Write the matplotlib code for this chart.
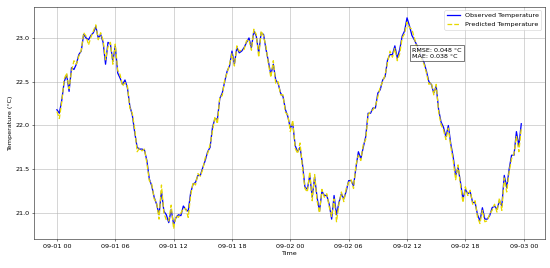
import matplotlib
matplotlib.use("Agg")
import matplotlib.pyplot as plt
import matplotlib.dates as mdates
import pandas as pd

start_time = "2023-09-01 00:00"
freq = "15min"

observed = [
    22.18, 22.14, 22.29, 22.50, 22.58, 22.39, 22.66, 22.64, 22.70, 22.81, 22.85, 23.04,
    23.00, 22.98, 23.03, 23.06, 23.13, 23.00, 23.04, 22.95, 22.70, 22.95, 22.93, 22.73,
    22.91, 22.60, 22.54, 22.47, 22.52, 22.43, 22.22, 22.12, 21.92, 21.75, 21.73, 21.73,
    21.72, 21.60, 21.39, 21.31, 21.18, 21.10, 20.98, 21.25, 21.02, 20.98, 20.89, 21.04,
    20.87, 20.95, 20.98, 20.97, 21.08, 21.04, 21.02, 21.23, 21.33, 21.35, 21.43, 21.43,
    21.52, 21.60, 21.70, 21.75, 21.98, 22.08, 22.07, 22.31, 22.37, 22.50, 22.62, 22.68,
    22.85, 22.70, 22.89, 22.83, 22.85, 22.89, 22.95, 23.00, 22.89, 23.08, 23.02, 22.83,
    23.06, 23.04, 22.87, 22.73, 22.58, 22.70, 22.52, 22.48, 22.37, 22.33, 22.18, 22.10,
    21.97, 22.02, 21.77, 21.70, 21.75, 21.56, 21.30, 21.27, 21.43, 21.18, 21.41, 21.18,
    21.02, 21.25, 21.20, 21.20, 21.10, 20.93, 21.20, 20.98, 21.12, 21.22, 21.16, 21.25,
    21.37, 21.37, 21.31, 21.52, 21.70, 21.62, 21.75, 21.87, 22.14, 22.14, 22.20, 22.20,
    22.37, 22.41, 22.52, 22.56, 22.75, 22.81, 22.81, 22.91, 22.77, 22.87, 23.02, 23.08,
    23.23, 23.14, 23.03, 22.98, 22.92, 22.85, 22.78, 22.72, 22.62, 22.50, 22.47, 22.37,
    22.45, 22.18, 22.04, 21.98, 21.87, 22.00, 21.79, 21.64, 21.43, 21.52, 21.35, 21.16,
    21.27, 21.22, 21.24, 21.12, 21.12, 20.98, 20.91, 21.06, 20.93, 20.93, 20.97, 21.06,
    21.08, 21.04, 21.14, 21.08, 21.43, 21.29, 21.50, 21.66, 21.66, 21.93, 21.77, 22.02,
]

predicted = [
    22.16, 22.08, 22.27, 22.53, 22.60, 22.42, 22.62, 22.74, 22.70, 22.79, 22.86, 23.06,
    23.02, 22.92, 23.01, 23.08, 23.15, 22.98, 23.06, 22.97, 22.75, 22.90, 22.95, 22.70,
    22.93, 22.63, 22.58, 22.45, 22.49, 22.45, 22.20, 22.14, 21.96, 21.70, 21.74, 21.71,
    21.73, 21.57, 21.37, 21.33, 21.16, 21.12, 20.93, 21.32, 21.00, 20.92, 20.91, 21.09,
    20.82, 20.97, 20.95, 21.00, 21.05, 21.05, 20.95, 21.20, 21.35, 21.32, 21.45, 21.42,
    21.50, 21.63, 21.68, 21.78, 21.94, 22.10, 22.02, 22.33, 22.34, 22.52, 22.60, 22.70,
    22.82, 22.68, 22.91, 22.85, 22.86, 22.87, 22.97, 22.98, 22.86, 23.10, 23.04, 22.78,
    23.08, 23.02, 22.90, 22.70, 22.55, 22.74, 22.48, 22.50, 22.35, 22.35, 22.15, 22.12,
    21.93, 22.06, 21.74, 21.68, 21.80, 21.52, 21.28, 21.24, 21.47, 21.14, 21.44, 21.14,
    21.00, 21.27, 21.18, 21.22, 21.07, 20.96, 21.16, 20.90, 21.10, 21.24, 21.13, 21.28,
    21.35, 21.38, 21.28, 21.55, 21.66, 21.60, 21.78, 21.84, 22.12, 22.16, 22.18, 22.22,
    22.33, 22.44, 22.50, 22.58, 22.72, 22.85, 22.78, 22.88, 22.74, 22.82, 23.00, 23.05,
    23.18, 23.12, 23.10, 23.00, 22.90, 22.84, 22.76, 22.70, 22.60, 22.47, 22.49, 22.35,
    22.47, 22.16, 22.01, 21.95, 21.84, 21.97, 21.76, 21.60, 21.38, 21.55, 21.32, 21.12,
    21.30, 21.20, 21.26, 21.10, 21.14, 20.95, 20.88, 21.03, 20.90, 20.91, 20.99, 21.03,
    21.10, 21.01, 21.17, 21.03, 21.40, 21.24, 21.47, 21.62, 21.68, 21.88, 21.70, 21.97,
]

rmse_text = "RMSE: 0.048 °C\nMAE: 0.038 °C"

times = pd.date_range(start_time, periods=len(observed), freq=freq)

dpi = 550 / 12
fig = plt.figure(figsize=(12, 268 / dpi), dpi=dpi)
ax = fig.add_axes([33.7 / 550, 1 - 239.3 / 268, (544.5 - 33.7) / 550, (239.3 - 7.3) / 268])

ax.plot(times, observed, color="blue", lw=2, label="Observed Temperature")
ax.plot(times, predicted, color="#e6d800", lw=2, ls="--", label="Predicted Temperature")

ax.xaxis.set_major_locator(mdates.HourLocator(byhour=[0, 6, 12, 18]))
ax.xaxis.set_major_formatter(mdates.DateFormatter("%m-%d %H"))
ax.set_xlabel("Time")
ax.set_ylabel("Temperature (°C)")
ax.grid(True)
ax.legend(loc="upper right")
ax.text(0.741, 0.825, rmse_text, transform=ax.transAxes, va="top", ha="left",
        bbox=dict(facecolor="white", edgecolor="black", alpha=0.8))

fig.savefig("out.png", dpi=dpi)
